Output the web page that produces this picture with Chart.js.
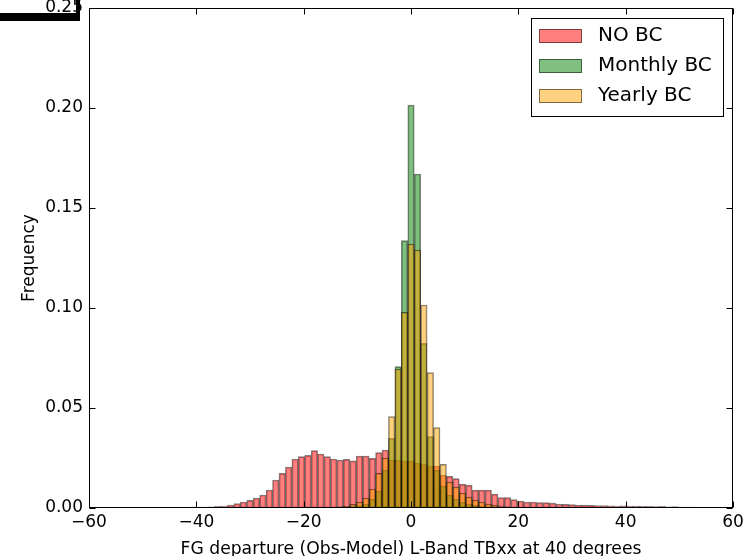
<!DOCTYPE html>
<html>
<head>
<meta charset="utf-8">
<script src="https://cdn.jsdelivr.net/npm/chart.js@4.4.0/dist/chart.umd.min.js"></script>
<style>
  html, body { margin: 0; padding: 0; background: #fff; }
  #wrap { width: 753px; height: 556px; }
</style>
</head>
<body>
<div id="wrap"><canvas id="chart" width="753" height="556"></canvas></div>
<script>
// bin centres (bin width 1.2)
const binCenters = [
  -55.2, -54.0, -52.8, -51.6, -50.4, -49.2, -48.0, -46.8, -45.6, -44.4,
  -43.2, -42.0, -40.8, -39.6, -38.4, -37.2, -36.0, -34.8, -33.6, -32.4,
  -31.2, -30.0, -28.8, -27.6, -26.4, -25.2, -24.0, -22.8, -21.6, -20.4,
  -19.2, -18.0, -16.8, -15.6, -14.4, -13.2, -12.0, -10.8, -9.6, -8.4,
  -7.2, -6.0, -4.8, -3.6, -2.4, -1.2, 0.0, 1.2, 2.4, 3.6,
  4.8, 6.0, 7.2, 8.4, 9.6, 10.8, 12.0, 13.2, 14.4, 15.6,
  16.8, 18.0, 19.2, 20.4, 21.6, 22.8, 24.0, 25.2, 26.4, 27.6,
  28.8, 30.0, 31.2, 32.4, 33.6, 34.8, 36.0, 37.2, 38.4, 39.6,
  40.8, 42.0, 43.2, 44.4, 45.6, 46.8, 48.0, 49.2, 50.4, 51.6,
  52.8
];

const noBC = [
  0.0002, 0, 0.0002, 0.0002, 0.0001, 0.0003, 0.0002, 0.0002, 0.0003, 0.0002,
  0.0003, 0.0003, 0.0004, 0.0004, 0.0005, 0.0006, 0.0008, 0.0010, 0.0015, 0.0022,
  0.0030, 0.0038, 0.0050, 0.0065, 0.0090, 0.0140, 0.0173, 0.0205, 0.0245, 0.0257,
  0.0263, 0.0287, 0.0270, 0.0257, 0.0245, 0.0240, 0.0243, 0.0236, 0.0260, 0.0260,
  0.0248, 0.0277, 0.0290, 0.0240, 0.0240, 0.0235, 0.0235, 0.0225, 0.0220, 0.0210,
  0.0210, 0.0165, 0.0158, 0.0147, 0.0119, 0.0114, 0.0089, 0.0089, 0.0089, 0.0069,
  0.0052, 0.0052, 0.0042, 0.0035, 0.0030, 0.0030, 0.0027, 0.0027, 0.0024, 0.0020,
  0.0018, 0.0017, 0.0015, 0.0014, 0.0013, 0.0012, 0.0012, 0.0011, 0.0010, 0.0011,
  0.0009, 0.0009, 0.0008, 0.0008, 0.0007, 0.0008, 0.0006, 0.0007, 0.0005, 0.0005,
  0.0005
];

const monthlyBC = [
  0, 0, 0, 0, 0, 0, 0, 0, 0, 0,
  0, 0, 0, 0, 0, 0, 0, 0, 0, 0,
  0, 0, 0, 0, 0, 0, 0, 0, 0, 0,
  0, 0, 0, 0, 0.0002, 0.0003, 0.0005, 0.0008, 0.0012, 0.0020,
  0.0045, 0.0085, 0.0190, 0.0348, 0.0707, 0.1337, 0.2015, 0.1670, 0.0823, 0.0357,
  0.0190, 0.0110, 0.0065, 0.0045, 0.0030, 0.0020, 0.0013, 0.0008, 0.0005, 0.0003,
  0, 0, 0, 0, 0, 0, 0, 0, 0, 0,
  0, 0, 0, 0, 0, 0, 0, 0, 0, 0,
  0, 0, 0, 0, 0, 0, 0, 0, 0, 0,
  0
];

const yearlyBC = [
  0, 0, 0, 0, 0, 0, 0, 0, 0, 0,
  0, 0, 0, 0, 0, 0, 0, 0, 0, 0,
  0, 0, 0, 0, 0, 0, 0, 0, 0, 0,
  0, 0, 0, 0, 0.0003, 0.0006, 0.0010, 0.0018, 0.0030, 0.0050,
  0.0095, 0.0173, 0.0250, 0.0457, 0.0695, 0.0978, 0.1320, 0.1290, 0.1015, 0.0677,
  0.0402, 0.0218, 0.0130, 0.0105, 0.0075, 0.0055, 0.0040, 0.0030, 0.0020, 0.0014,
  0.0010, 0.0006, 0.0003, 0, 0, 0, 0, 0, 0, 0,
  0, 0, 0, 0, 0, 0, 0, 0, 0, 0,
  0, 0, 0, 0, 0, 0, 0, 0, 0, 0,
  0
];

const seriesNames = ["NO BC", "Monthly BC", "Yearly BC"];
const xTicks = [-60, -40, -20, 0, 20, 40, 60];
const yTicks = [0, 0.05, 0.10, 0.15, 0.20, 0.25];

const FONT = "'DejaVu Sans', 'Liberation Sans', sans-serif";
Chart.defaults.font.family = FONT;
Chart.defaults.font.size = 17;
Chart.defaults.color = "#000";

function toPoints(vals) {
  return vals.map((v, i) => ({ x: binCenters[i], y: v }));
}

function histSet(label, vals, fill, order) {
  return {
    label: label,
    data: toPoints(vals),
    backgroundColor: fill,
    borderColor: "rgba(0,0,0,0.5)",
    borderWidth: 1,
    borderSkipped: false,
    barPercentage: 1,
    categoryPercentage: 1,
    grouped: false,
    order: order
  };
}

// frame, inward ticks, legend and the black mark in the top-left corner
const decorations = {
  id: "decorations",
  afterDraw(chart) {
    const ctx = chart.ctx;
    const a = chart.chartArea;
    const xs = chart.scales.x, ys = chart.scales.y;
    const L = Math.round(a.left) + 0.5, R = Math.round(a.right) - 0.5;
    const T = Math.round(a.top) + 0.5, B = Math.round(a.bottom) - 0.5;
    ctx.save();
    ctx.strokeStyle = "#000";
    ctx.lineWidth = 1;
    ctx.beginPath();
    xTicks.forEach(v => {
      const px = Math.round(xs.getPixelForValue(v)) + 0.5;
      ctx.moveTo(px, B); ctx.lineTo(px, B - 6);
      ctx.moveTo(px, T); ctx.lineTo(px, T + 6);
    });
    yTicks.forEach(v => {
      const py = Math.round(ys.getPixelForValue(v)) + 0.5;
      ctx.moveTo(L, py); ctx.lineTo(L + 6, py);
      ctx.moveTo(R, py); ctx.lineTo(R - 6, py);
    });
    ctx.stroke();
    ctx.strokeRect(L, T, R - L, B - T);

    // legend
    const lx = 531.5, ly = 18.5, lw = 192, lh = 98;
    ctx.fillStyle = "#fff";
    ctx.fillRect(lx, ly, lw, lh);
    ctx.strokeRect(lx, ly, lw, lh);
    ctx.font = "20px " + FONT;
    ctx.textBaseline = "middle";
    ctx.textAlign = "left";
    chart.data.datasets.forEach((ds, i) => {
      const sy = 29 + i * 30;
      ctx.fillStyle = ds.backgroundColor;
      ctx.fillRect(539, sy, 43, 14);
      ctx.strokeStyle = ds.borderColor;
      ctx.strokeRect(539.5, sy + 0.5, 42, 13);
      ctx.fillStyle = "#000";
      ctx.fillText(ds.label, 598, sy + 7);
    });

    ctx.fillStyle = "#000";
    ctx.fillRect(0, 13, 80, 8);
    ctx.fillRect(76, 0, 4, 21);
    ctx.restore();
  }
};

new Chart(document.getElementById("chart"), {
  type: "bar",
  data: {
    datasets: [
      histSet(seriesNames[0], noBC, "rgba(255,0,0,0.5)", 3),
      histSet(seriesNames[1], monthlyBC, "rgba(0,128,0,0.5)", 2),
      histSet(seriesNames[2], yearlyBC, "rgba(255,165,0,0.5)", 1)
    ]
  },
  options: {
    responsive: false,
    animation: false,
    devicePixelRatio: 1,
    layout: { padding: { top: 8, right: 20, left: 0, bottom: 0 } },
    plugins: { legend: { display: false }, tooltip: { enabled: false } },
    scales: {
      x: {
        type: "linear",
        min: -60, max: 60,
        offset: false,
        grid: { display: false, drawTicks: false },
        border: { display: false },
        afterBuildTicks: s => { s.ticks = xTicks.map(v => ({ value: v })); },
        afterFit: s => { s.height = 48; s.paddingLeft = 0; s.paddingRight = 0; },
        ticks: {
          padding: 4,
          maxRotation: 0,
          callback: v => String(v).replace("-", "\u2212")
        },
        title: {
          display: true,
          text: "FG departure (Obs-Model) L-Band TBxx at 40 degrees",
          font: { size: 17.2, lineHeight: 1 },
          padding: { top: 0, bottom: -2 }
        }
      },
      y: {
        min: 0, max: 0.25,
        grid: { display: false, drawTicks: false },
        border: { display: false },
        afterBuildTicks: s => { s.ticks = yTicks.map(v => ({ value: v })); },
        afterFit: s => { s.width = 89; s.paddingTop = 0; s.paddingBottom = 0; },
        ticks: {
          padding: 6,
          callback: v => v.toFixed(2)
        },
        title: {
          display: true,
          text: "Frequency",
          font: { size: 17 },
          padding: { top: 19, bottom: 0 }
        }
      }
    }
  },
  plugins: [decorations]
});
</script>
</body>
</html>
